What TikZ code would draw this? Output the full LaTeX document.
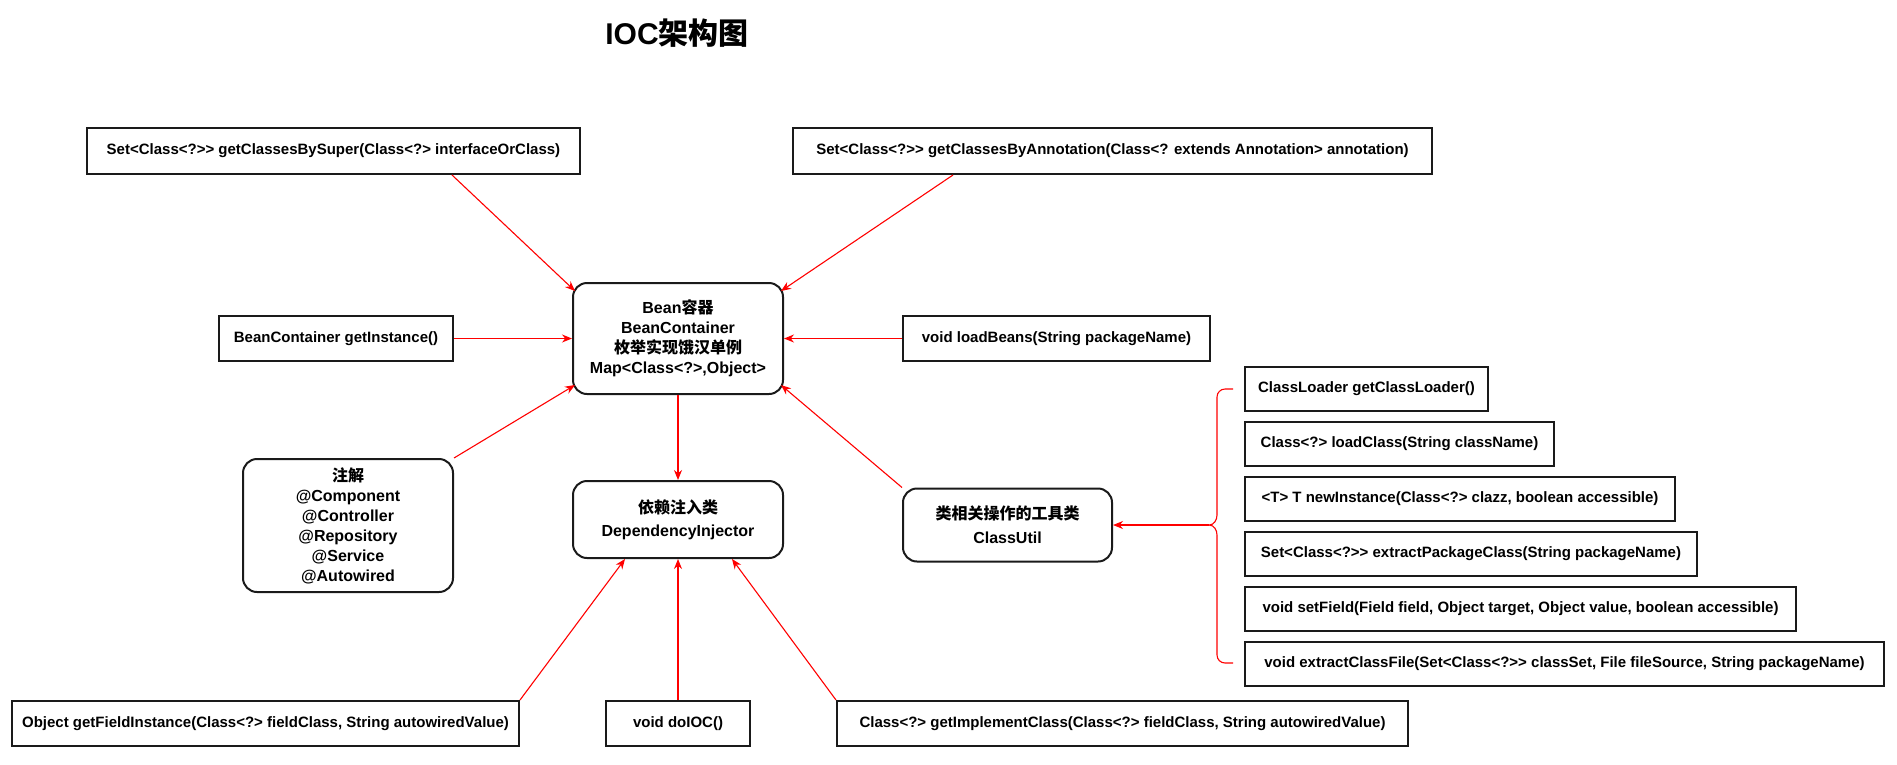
\documentclass[tikz,border=0pt]{standalone}
\usepackage{fontspec}
\setmainfont{Liberation Sans}
\newfontfamily\cjk{Noto Sans CJK SC}
\usetikzlibrary{arrows.meta,positioning}
\definecolor{IocRed}{HTML}{FF0000}
\definecolor{IocInk}{HTML}{1A1A1A}

\begin{document}
\begin{tikzpicture}[x=1pt,y=-1pt,
    every node/.style={font=\bfseries\fontsize{15}{18}\selectfont,align=center,inner sep=0pt},
    box/.style={draw=IocInk,line width=2pt,fill=white,minimum height=45pt},
    rbox/.style={draw=IocInk,line width=2pt,fill=white,rounded corners=14pt,font=\bfseries\fontsize{16}{20}\selectfont},
    link/.style={-{Stealth[length=10pt,width=8pt]},IocRed,line width=1.1pt}]
  \useasboundingbox (0,0) rectangle (1897,764);
  \node[font=\bfseries\fontsize{30}{34}\selectfont] (title) at (677,33) {IOC{\cjk 架构图}};
  % container and the calls around it
  \node[box,minimum width=493pt,minimum height=46pt] (bysuper) at (333.5,151) {Set<Class<?>{}> getClassesBySuper(Class<?> interfaceOrClass)};
  \node[box,minimum width=639pt,minimum height=46pt] (byanno) at (1112.5,151) {Set<Class<?>{}> getClassesByAnnotation(Class<? extends Annotation> annotation)};
  \node[rbox,minimum width=210pt,minimum height=111pt] (bean) at (678,338.5) {Bean{\cjk 容器}\\BeanContainer\\{\cjk 枚举实现饿汉单例}\\Map<Class<?>,Object>};
  \node[box,minimum width=234pt] (getinst) at (336,338.5) {BeanContainer getInstance()};
  \node[box,minimum width=307pt] (loadbeans) at (1056.5,338.5) {void loadBeans(String packageName)};
  \node[rbox,minimum width=210pt,minimum height=133pt] (annot) at (348,525.5) {{\cjk 注解}\\@Component\\@Controller\\@Repository\\@Service\\@Autowired};
  \node[rbox,minimum width=210pt,minimum height=77pt] (injector) at (678,519.5) {{\cjk 依赖注入类}\\[3pt]DependencyInjector};
  \node[rbox,minimum width=209pt,minimum height=73pt] (classutil) at (1007.5,525) {{\cjk 类相关操作的工具类}\\[4pt]ClassUtil};
  % ClassUtil methods
  \node[box,minimum width=243pt,minimum height=44pt,anchor=north west] (cu1) at (1244,366) {ClassLoader getClassLoader()};
  \node[box,minimum width=309pt,minimum height=44pt,below=9pt of cu1.south west,anchor=north west] (cu2) {Class<?> loadClass(String className)};
  \node[box,minimum width=430pt,minimum height=44pt,below=9pt of cu2.south west,anchor=north west] (cu3) {<T> T newInstance(Class<?> clazz, boolean accessible)};
  \node[box,minimum width=452pt,minimum height=44pt,below=9pt of cu3.south west,anchor=north west] (cu4) {Set<Class<?>{}> extractPackageClass(String packageName)};
  \node[box,minimum width=551pt,minimum height=44pt,below=9pt of cu4.south west,anchor=north west] (cu5) {void setField(Field field, Object target, Object value, boolean accessible)};
  \node[box,minimum width=639pt,minimum height=44pt,below=9pt of cu5.south west,anchor=north west] (cu6) {void extractClassFile(Set<Class<?>{}> classSet, File fileSource, String packageName)};
  % injector calls
  \node[box,minimum width=507pt] (fieldinst) at (265.5,723.5) {Object getFieldInstance(Class<?> fieldClass, String autowiredValue)};
  \node[box,minimum width=144pt] (doioc) at (678,723.5) {void doIOC()};
  \node[box,minimum width=571pt] (implcls) at (1122.5,723.5) {Class<?> getImplementClass(Class<?> fieldClass, String autowiredValue)};
  % brace
  \coordinate (brtip) at (1209,525);
  \draw[IocRed,line width=1.1pt] (1233,389) -- (1225,389) to[out=180,in=90] (1217,397) -- (1217,515) to[out=270,in=0] (brtip) to[out=0,in=90] (1217,535) -- (1217,655) to[out=270,in=180] (1225,663) -- (1233,663);
  \foreach \a/\b in {getinst.east/bean.west,loadbeans.west/bean.east,bean.south/injector.north,doioc.north/injector.south,brtip/classutil.east}{\draw[link] (\a)--(\b);}
  \draw[link] ([xshift=118.5pt]bysuper.south) -- ([xshift=3pt,yshift=-9pt]bean.north west);
  \draw[link] ([xshift=-159.5pt]byanno.south) -- ([xshift=-3pt,yshift=-9pt]bean.north east);
  \draw[link] (annot.north east) -- ([xshift=3pt,yshift=10pt]bean.south west);
  \draw[link] (classutil.north west) -- ([xshift=-3pt,yshift=10pt]bean.south east);
  \draw[link] (fieldinst.north east) -- ([xshift=-53pt]injector.south);
  \draw[link] (implcls.north west) -- ([xshift=54pt]injector.south);
\end{tikzpicture}
\end{document}
